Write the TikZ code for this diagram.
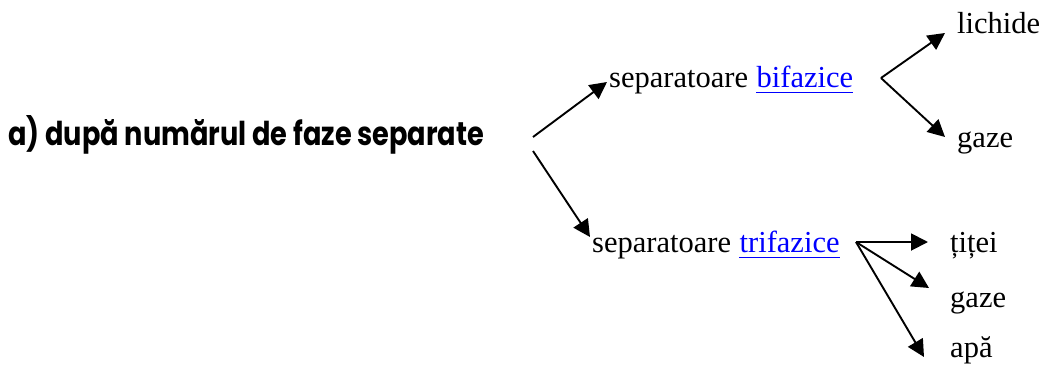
\documentclass[tikz,border=0pt]{standalone}
\usepackage{fontspec}
\setmainfont{Liberation Serif}
\newfontfamily\headfont{Poppins}
\usetikzlibrary{arrows.meta,calc}
\definecolor{linkblue}{RGB}{0,0,255}
% underlined hyperlink-style word
\newcommand{\linkword}[1]{\tikz[baseline=0pt]{\node[inner sep=0pt,anchor=base west,text=linkblue] (w) at (0,0) {#1};
  \draw[linkblue,line width=1.6pt] ($(w.base west)+(0,-5.5pt)$) -- ($(w.base east)+(0,-5.5pt)$);}}
\begin{document}
\begin{tikzpicture}[x=1pt,y=-1pt,
  txt/.style={inner sep=0pt,anchor=base west,font=\fontsize{30.5}{36}\selectfont},
  arr/.style={line width=1.9pt,-{Triangle[length=17pt,width=17pt]}}]
\useasboundingbox[fill=white] (0,0) rectangle (1042,365);
% heading
\node[inner sep=0pt,anchor=base west] (head) at (8,145)
  {\resizebox{476pt}{30pt}{\headfont\bfseries\fontsize{30}{36}\selectfont a) după numărul de faze separate}};
% two kinds of separators
\node[txt] (bif) at (609,87) {separatoare \linkword{bifazice}};
\node[txt] (tri) at (592,252) {separatoare \linkword{trifazice}};
% products
\node[txt] (lich) at (957,33) {lichide};
\node[txt] (gaz1) at (957,147) {gaze};
\node[txt] (titei) at (950,252) {țiței};
\node[txt] (gaz2) at (950,307) {gaze};
\node[txt] (apa) at (950,357) {apă};
% branching points
\coordinate (hA) at (533,137);
\coordinate (hB) at (533,151);
\coordinate (bB) at (881,78);
\coordinate (tB) at (856,242);
% connectors
\draw[arr] (hA) -- ($(bif.base west)+(-2,-5)$);
\draw[arr] (hB) -- ($(tri.base west)+(-2,-15)$);
\draw[arr] (bB) -- ($(lich.base west)+(-12,0)$);
\draw[arr] (bB) -- ($(gaz1.base west)+(-12,-10)$);
\draw[arr] (tB) -- ($(titei.base west)+(-22,-10)$);
\draw[arr] (tB) -- ($(gaz2.base west)+(-21,-19)$);
\draw[arr] (tB) -- ($(apa.base west)+(-26,0)$);
\end{tikzpicture}
\end{document}
